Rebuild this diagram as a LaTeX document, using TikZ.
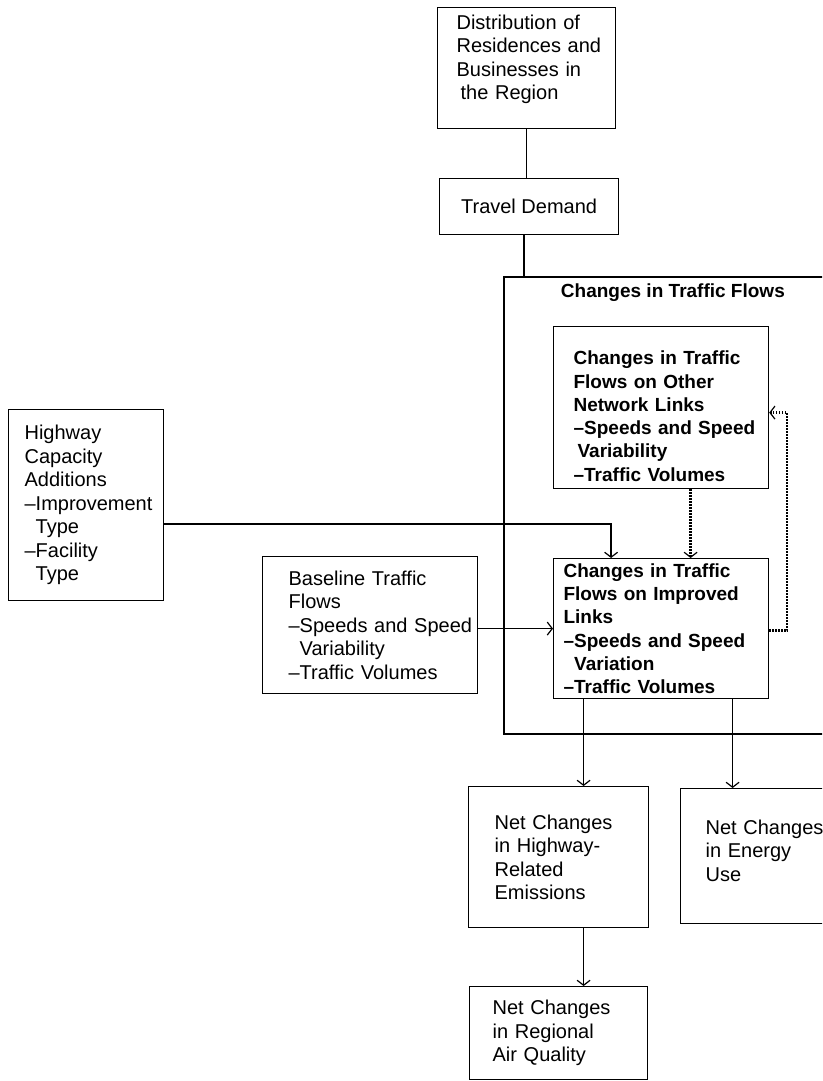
\documentclass[tikz,border=0pt]{standalone}
\usepackage{fontspec}
\setmainfont{Liberation Sans}
\usetikzlibrary{arrows.meta}
\tikzset{
    box/.style = {
        draw,
        line width=1.2pt,
        anchor=north west,
        align=left,
        inner sep=0pt,
        font=\fontsize{20}{23.5}\selectfont,
        },
    inner box/.style = {
        box,
        font=\fontsize{19}{23.3}\selectfont\bfseries,
        },
    indent/.style = {
        execute at begin node={\leftskip=#1pt},
        },
    group box/.style = {
        draw,
        line width=1.8pt,
        anchor=north west,
        inner sep=0pt,
        },
    conn/.style = {
        line width=1.6pt,
        },
    arrow/.style = {
        conn,
        -{Straight Barb[length=5pt,width=13pt,line width=1.2pt]},
        },
    feedback/.style = {
        arrow,
        line width=2.4pt,
        dash pattern=on 1.6pt off 1.4pt,
        },
}

\begin{document}
\begin{tikzpicture}[x=1pt, y=-1pt]
    \path[use as bounding box, clip] (0,0) rectangle (822,1081);

    % top of the chain
    \node [box, minimum width=178, minimum height=121, text width=174, indent=17] (dist) at (437,7)
        {Distribution of\\Residences and\\Businesses in\\\hspace*{4pt}the Region\rule[-22pt]{0pt}{0pt}};
    \node [box, minimum width=179, minimum height=56, align=center] (travel) at (439,178) {Travel Demand};

    % inputs on the left
    \node [box, minimum width=155, minimum height=191, text width=151, indent=14] (highway) at (8,409)
        {Highway\\Capacity\\Additions\\–Improvement\\\hphantom{–}Type\\–Facility\\\hphantom{–}Type};
    \node [box, minimum width=215, minimum height=137, text width=211, indent=24] (baseline) at (262,556)
        {Baseline Traffic\\Flows\\–Speeds and Speed\\\hphantom{–}Variability\\–Traffic Volumes};

    % changes in traffic flows
    \node [group box, minimum width=338, minimum height=457,
           label={[font=\fontsize{19}{23}\selectfont\bfseries, below=4pt]north:Changes in Traffic Flows}] (flows) at (503,276) {};
    \node [inner box, minimum width=215, minimum height=162, text width=211, indent=18] (other) at (553,326)
        {\rule{0pt}{31pt}Changes in Traffic\\Flows on Other\\Network Links\\–Speeds and Speed\\\hspace*{4pt}Variability\\–Traffic Volumes};
    \node [inner box, minimum width=215, minimum height=140, text width=211, indent=8] (improved) at (553,558)
        {Changes in Traffic\\Flows on Improved\\Links\\–Speeds and Speed\\\hphantom{–}Variation\\–Traffic Volumes};

    % outcomes
    \node [box, minimum width=180, minimum height=141, text width=176, indent=24] (emissions) at (468,786)
        {Net Changes\\in Highway-\\Related\\Emissions};
    \node [box, minimum width=180, minimum height=135, text width=176, indent=23] (energy) at (680,788)
        {Net Changes\\in Energy\\Use\rule[-11pt]{0pt}{0pt}};
    \node [box, minimum width=178, minimum height=93, text width=174, indent=21] (air) at (469,986)
        {Net Changes\\in Regional\\Air Quality};

    % plain links
    \draw[conn] (dist.south) -- (dist.south |- travel.north);
    \draw[conn] ([xshift=-5]travel.south) -- ([xshift=-5]travel.south |- flows.north);

    % inputs
    \draw[arrow] ([yshift=-19]highway.east) -| ([xshift=-50]improved.north);
    \draw[arrow] (baseline.east |- improved.west) -- (improved.west);

    % dotted links
    \draw[feedback] ([xshift=29.5]other.south) -- ([xshift=29.5]improved.north);
    \draw[feedback] ([yshift=-2]improved.east) -- ++(18,0) |- ([yshift=-5]other.east);

    % outputs
    \draw[arrow] ([xshift=-77.5]improved.south) -- ([xshift=-77.5]improved.south |- emissions.north);
    \draw[arrow] ([xshift=71.5]improved.south) -- ([xshift=71.5]improved.south |- energy.north);
    \draw[arrow] ([xshift=25]emissions.south) -- ([xshift=25]emissions.south |- air.north);
\end{tikzpicture}
\end{document}
